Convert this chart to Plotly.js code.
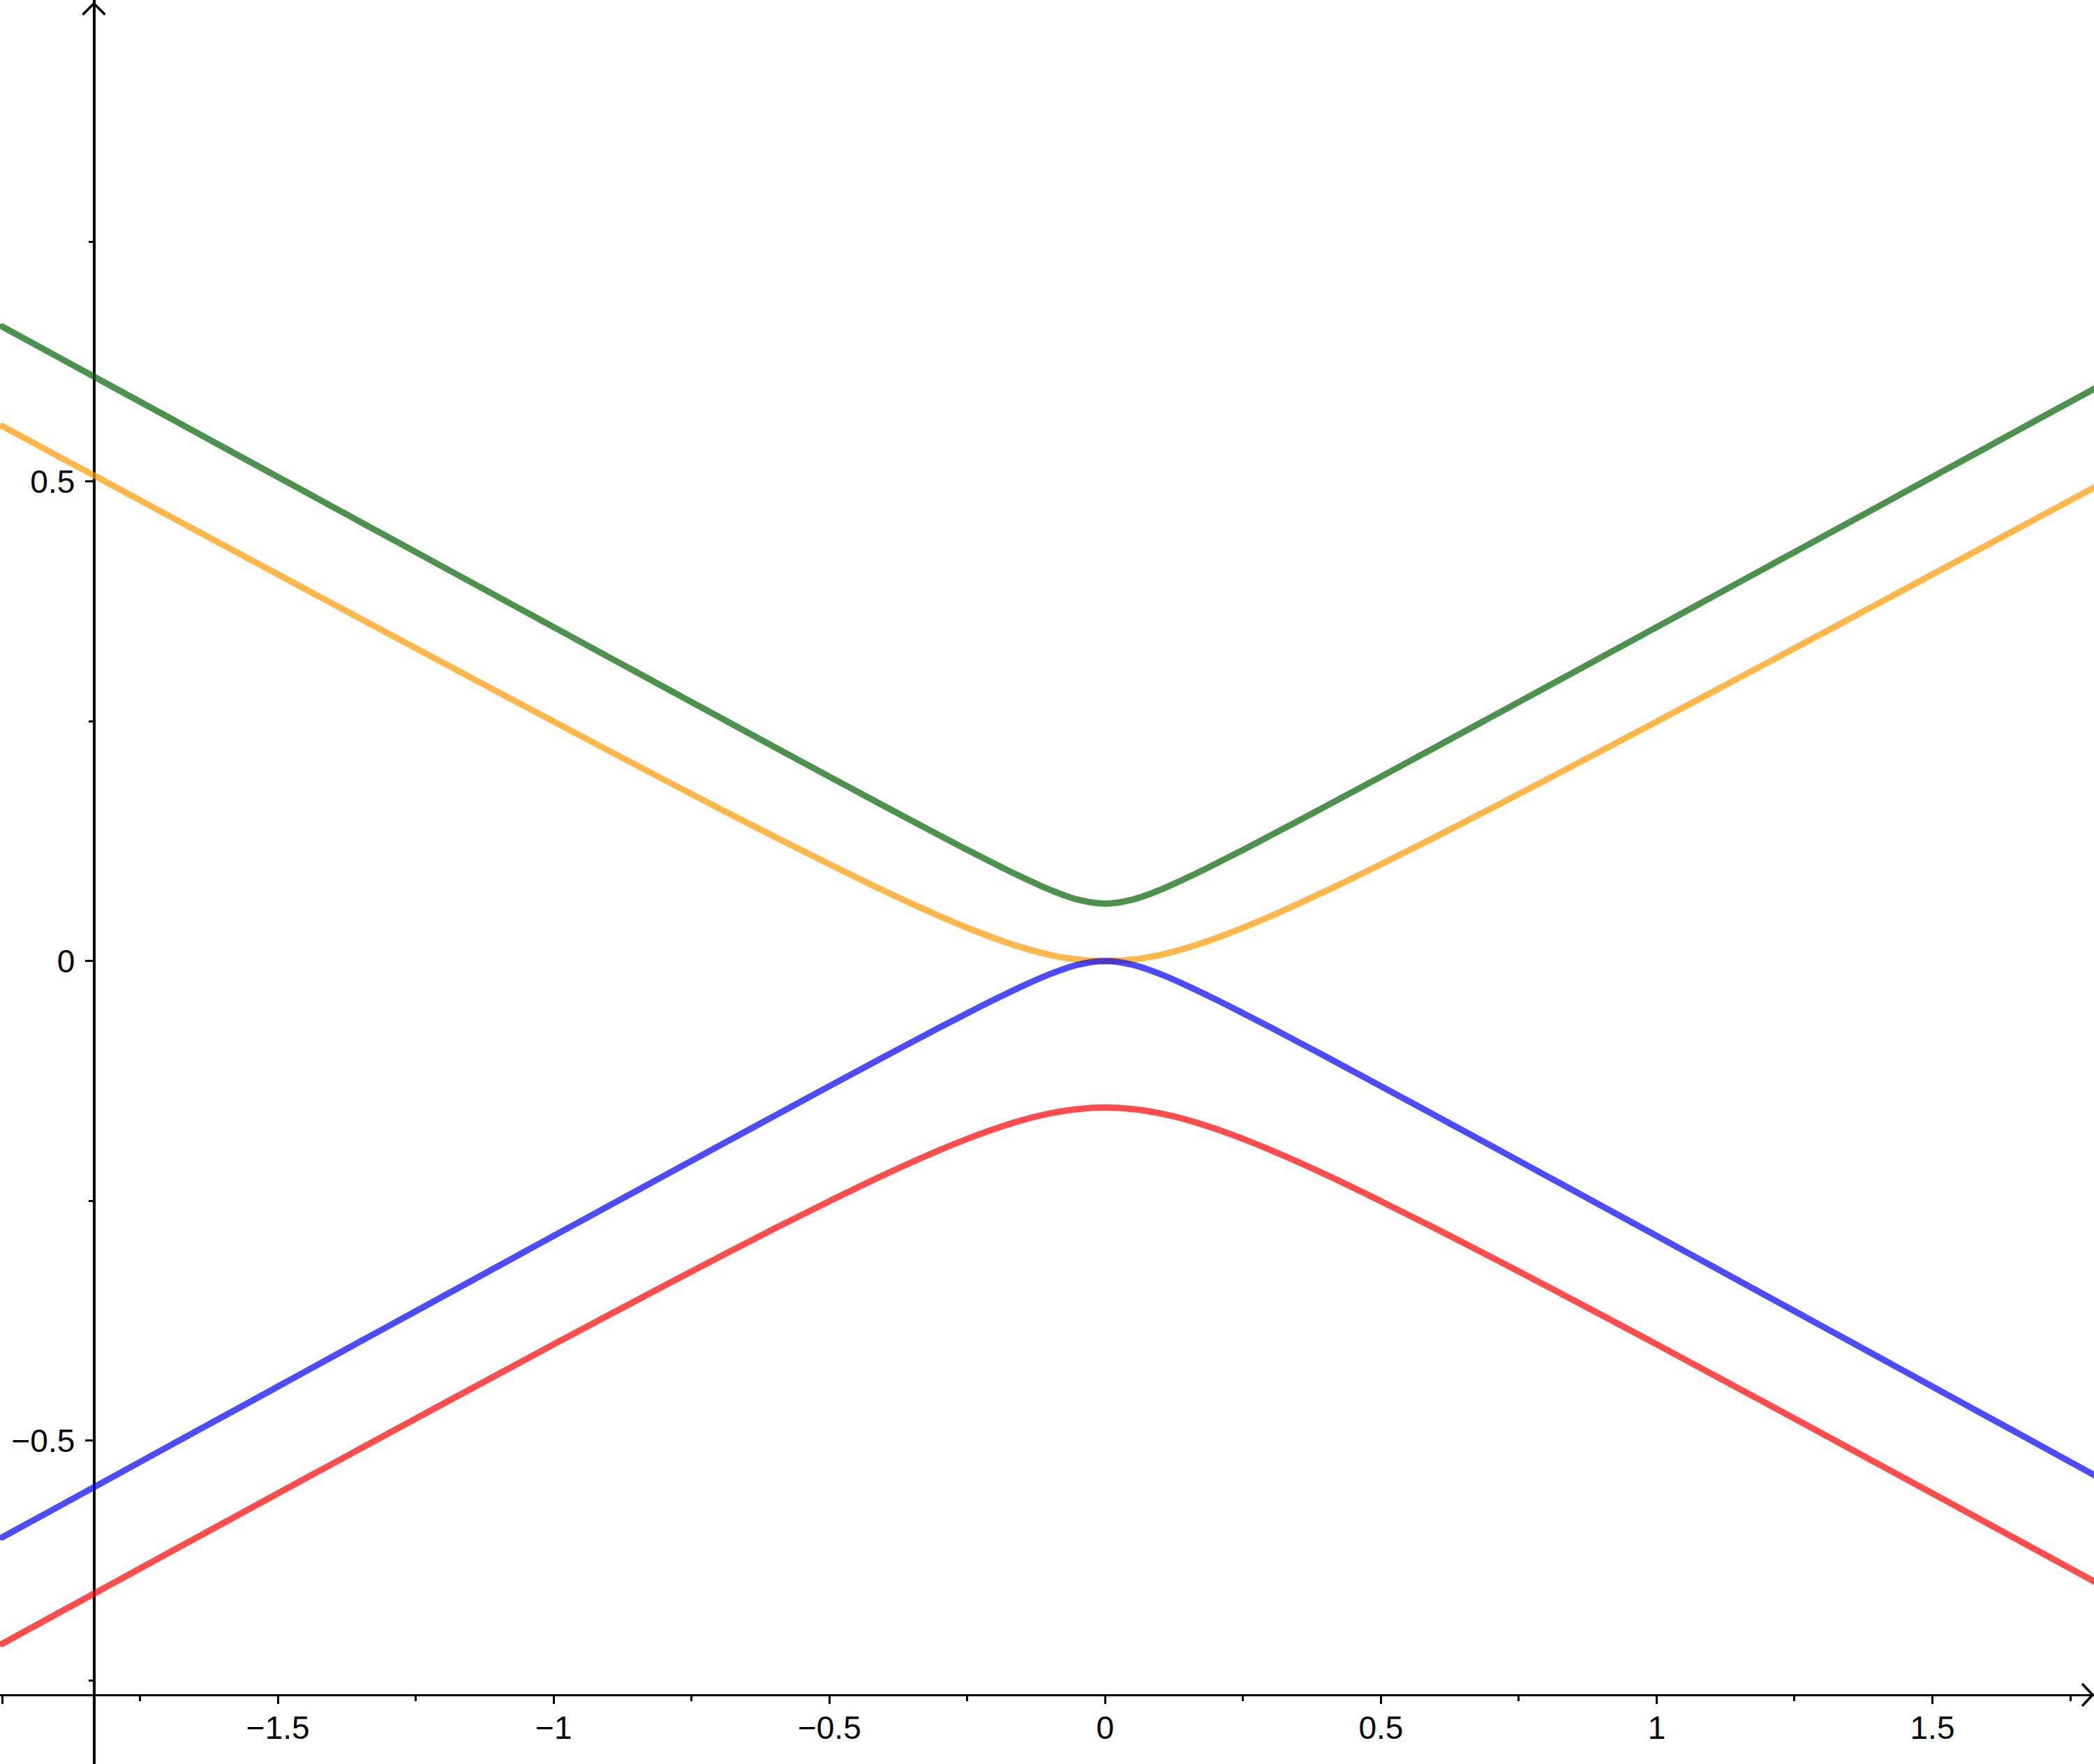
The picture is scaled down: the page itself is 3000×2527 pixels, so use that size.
<!DOCTYPE html>
<html>
<head>
<meta charset="utf-8">
<script src="https://cdn.plot.ly/plotly-3.0.1.min.js"></script>
<style>
  html, body { margin: 0; padding: 0; background: #ffffff; }
  #chart { width: 3000px; height: 2527px; }
  #chart path.js-line { stroke-linecap: round; stroke-linejoin: round; }
</style>
</head>
<body>
<div id="chart"></div>
<script>
// Sample positions along the horizontal axis
const xs = [-2.0, -1.9, -1.8, -1.7, -1.6, -1.5, -1.4, -1.3, -1.2, -1.1, -1.0, -0.9, -0.8, -0.7, -0.6, -0.5, -0.4,
            -0.3, -0.25, -0.2, -0.15, -0.1, -0.05, 0.0, 0.05, 0.1, 0.15, 0.2, 0.25, 0.3,
            0.4, 0.5, 0.6, 0.7, 0.8, 0.9, 1.0, 1.1, 1.2, 1.3, 1.4, 1.5, 1.6, 1.7, 1.8];

// Green curve (upper branch)
const greenY = [0.6616, 0.6302, 0.5988, 0.5675, 0.5361, 0.5048, 0.4734, 0.4421, 0.4108, 0.3795, 0.3482, 0.3169, 0.2857, 0.2545, 0.2233, 0.1923, 0.1615,
                0.1310, 0.1160, 0.1014, 0.0873, 0.0744, 0.0642, 0.0600, 0.0642, 0.0744, 0.0873, 0.1014, 0.1160, 0.1310,
                0.1615, 0.1923, 0.2233, 0.2545, 0.2857, 0.3169, 0.3482, 0.3795, 0.4108, 0.4421, 0.4734, 0.5048, 0.5361, 0.5675, 0.5988];

// Orange curve (touches zero at the origin from above)
const orangeY = [0.5579, 0.5269, 0.4960, 0.4650, 0.4341, 0.4032, 0.3724, 0.3416, 0.3109, 0.2803, 0.2498, 0.2194, 0.1892, 0.1593, 0.1299, 0.1010, 0.0731,
                 0.0469, 0.0348, 0.0238, 0.0142, 0.0066, 0.0017, 0.0000, 0.0017, 0.0066, 0.0142, 0.0238, 0.0348, 0.0469,
                 0.0731, 0.1010, 0.1299, 0.1593, 0.1892, 0.2194, 0.2498, 0.2803, 0.3109, 0.3416, 0.3724, 0.4032, 0.4341, 0.4650, 0.4960];

// Blue curve (touches zero at the origin from below)
const blueY = [-0.6007, -0.5693, -0.5378, -0.5063, -0.4749, -0.4435, -0.4120, -0.3806, -0.3492, -0.3178, -0.2864, -0.2551, -0.2238, -0.1925, -0.1614, -0.1303, -0.0995,
               -0.0691, -0.0543, -0.0398, -0.0260, -0.0135, -0.0039, 0.0000, -0.0039, -0.0135, -0.0260, -0.0398, -0.0543, -0.0691,
               -0.0995, -0.1303, -0.1614, -0.1925, -0.2238, -0.2551, -0.2864, -0.3178, -0.3492, -0.3806, -0.4120, -0.4435, -0.4749, -0.5063, -0.5378];

// Red curve (lower branch)
const redY = [-0.7116, -0.6802, -0.6488, -0.6174, -0.5861, -0.5548, -0.5236, -0.4924, -0.4613, -0.4304, -0.3995, -0.3689, -0.3385, -0.3085, -0.2789, -0.2502, -0.2225,
              -0.1969, -0.1852, -0.1747, -0.1657, -0.1587, -0.1542, -0.1526, -0.1542, -0.1587, -0.1657, -0.1747, -0.1852, -0.1969,
              -0.2225, -0.2502, -0.2789, -0.3085, -0.3385, -0.3689, -0.3995, -0.4304, -0.4613, -0.4924, -0.5236, -0.5548, -0.5861, -0.6174, -0.6488];

// Tick positions and labels
const xTickVals = [-2, -1.5, -1, -0.5, 0, 0.5, 1, 1.5];
const xTickText = ['', '\u22121.5', '\u22121', '\u22120.5', '0', '0.5', '1', '1.5'];
const xMinorVals = [-1.75, -1.25, -0.75, -0.25, 0.25, 0.75, 1.25, 1.75];
const yTickVals = [-0.5, 0, 0.5];
const yTickText = ['\u22120.5', '0', '0.5'];
const yMinorVals = [-0.75, -0.25, 0.25, 0.75];

const lineW = 9;
const traces = [
  {x: xs, y: greenY, mode: 'lines', line: {color: 'rgba(0,100,0,0.7)', width: lineW, shape: 'spline', smoothing: 1}, hoverinfo: 'skip'},
  {x: xs, y: orangeY, mode: 'lines', line: {color: 'rgba(255,153,0,0.7)', width: lineW, shape: 'spline', smoothing: 1}, hoverinfo: 'skip'},
  {x: xs, y: blueY, mode: 'lines', line: {color: 'rgba(0,0,255,0.7)', width: lineW, shape: 'spline', smoothing: 1}, hoverinfo: 'skip'},
  {x: xs, y: redY, mode: 'lines', line: {color: 'rgba(255,0,0,0.7)', width: lineW, shape: 'spline', smoothing: 1}, hoverinfo: 'skip'}
];

const font = {family: '"Liberation Sans", Arial, sans-serif', size: 46, color: '#000000'};

const layout = {
  width: 3000,
  height: 2527,
  margin: {l: 0, r: 0, t: 0, b: 0, pad: 0},
  paper_bgcolor: '#ffffff',
  plot_bgcolor: '#ffffff',
  showlegend: false,
  font: font,
  xaxis: {
    range: [-2.004, 1.793],
    anchor: 'free',
    position: 0.0392,
    showgrid: false,
    zeroline: false,
    showline: true,
    linecolor: '#000000',
    linewidth: 3.5,
    layer: 'below traces',
    ticks: 'outside',
    ticklen: 11,
    tickwidth: 3,
    tickcolor: '#000000',
    tickmode: 'array',
    tickvals: xTickVals,
    ticktext: xTickText,
    tickfont: font,
    ticklabelstandoff: -6,
    minor: {tickmode: 'array', tickvals: xMinorVals, ticks: 'outside', ticklen: 7, tickwidth: 3, tickcolor: '#000000', showgrid: false}
  },
  yaxis: {
    range: [-0.837, 1.002],
    anchor: 'free',
    position: 0.04483,
    showgrid: false,
    zeroline: false,
    showline: true,
    linecolor: '#000000',
    linewidth: 3.5,
    layer: 'below traces',
    ticks: 'outside',
    ticklen: 11,
    tickwidth: 3,
    tickcolor: '#000000',
    tickmode: 'array',
    tickvals: yTickVals,
    ticktext: yTickText,
    tickfont: font,
    ticklabelstandoff: 6,
    minor: {tickmode: 'array', tickvals: yMinorVals, ticks: 'outside', ticklen: 6, tickwidth: 3, tickcolor: '#000000', showgrid: false}
  },
  shapes: [
    {type: 'path', xref: 'paper', yref: 'paper', layer: 'below',
     path: 'M0.99433,0.04551 L0.99933,0.03918 L0.99433,0.03285',
     line: {color: '#000000', width: 3.5}},
    {type: 'path', xref: 'paper', yref: 'paper', layer: 'below',
     path: 'M0.0395,0.99169 L0.04483,0.99802 L0.05016,0.99169',
     line: {color: '#000000', width: 3.5}}
  ]
};

Plotly.newPlot('chart', traces, layout, {staticPlot: true, displayModeBar: false});
</script>
</body>
</html>
